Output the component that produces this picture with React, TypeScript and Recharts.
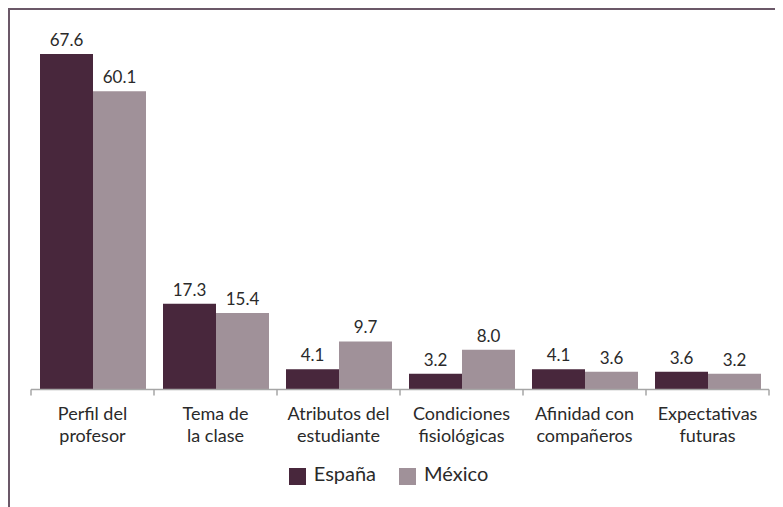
import { BarChart, Bar, XAxis, YAxis, Legend, LabelList } from 'recharts';

const categories = [
  'Perfil del\nprofesor',
  'Tema de\nla clase',
  'Atributos del\nestudiante',
  'Condiciones\nfisiológicas',
  'Afinidad con\ncompañeros',
  'Expectativas\nfuturas',
];
const espana = [67.6, 17.3, 4.1, 3.2, 4.1, 3.6];
const mexico = [60.1, 15.4, 9.7, 8.0, 3.6, 3.2];

const data = categories.map((name, i) => ({ name, espana: espana[i], mexico: mexico[i] }));

const WIDTH = 773;
const HEIGHT = 497;
const MARGIN = { top: 32, right: 14, left: 21, bottom: 22 };
const BAND = (WIDTH - MARGIN.left - MARGIN.right) / categories.length;
const FONT = 'Lato, "Noto Sans", sans-serif';
const TEXT = '#2a2a2a';

const CategoryTick = (props: any) => {
  const { x, y, payload, index } = props;
  const lines = String(payload.value).split('\n');
  return (
    <g>
      <line x1={x - BAND / 2} x2={x - BAND / 2} y1={y} y2={y + 6} stroke="#a6a6a6" strokeWidth={1.5} />
      {index === categories.length - 1 && (
        <line x1={x + BAND / 2} x2={x + BAND / 2} y1={y} y2={y + 6} stroke="#a6a6a6" strokeWidth={1.5} />
      )}
      {lines.map((l, i) => (
        <text key={i} x={x} y={y + 30 + i * 22} textAnchor="middle" fontSize={18} fill={TEXT} fontFamily={FONT}>
          {l}
        </text>
      ))}
    </g>
  );
};

const fmt = (v: any) => Number(v).toFixed(1);

export default function App() {
  return (
    <div
      style={{
        width: WIDTH,
        height: HEIGHT,
        borderTop: '2px solid #6b5868',
        borderLeft: '2px solid #6b5868',
        fontFamily: FONT,
      }}
    >
      <BarChart width={WIDTH} height={HEIGHT} data={data} margin={MARGIN} barCategoryGap={9} barGap={0}>
        <XAxis
          dataKey="name"
          interval={0}
          tickSize={0}
          tickMargin={0}
          tickLine={false}
          height={71}
          axisLine={{ stroke: '#a6a6a6', strokeWidth: 1.5 }}
          tick={<CategoryTick />}
        />
        <YAxis hide domain={[0, 70]} />
        <Legend
          verticalAlign="bottom"
          iconType="square"
          iconSize={17}
          formatter={(v: string) => (
            <span style={{ color: TEXT, fontSize: 20, marginLeft: 4, marginRight: 13 }}>{v}</span>
          )}
        />
        <Bar dataKey="espana" name="España" fill="#48273c" isAnimationActive={false}>
          <LabelList dataKey="espana" position="top" offset={8} formatter={fmt} fill={TEXT} fontSize={17} fontFamily={FONT} />
        </Bar>
        <Bar dataKey="mexico" name="México" fill="#a09199" isAnimationActive={false}>
          <LabelList dataKey="mexico" position="top" offset={8} formatter={fmt} fill={TEXT} fontSize={17} fontFamily={FONT} />
        </Bar>
      </BarChart>
    </div>
  );
}
